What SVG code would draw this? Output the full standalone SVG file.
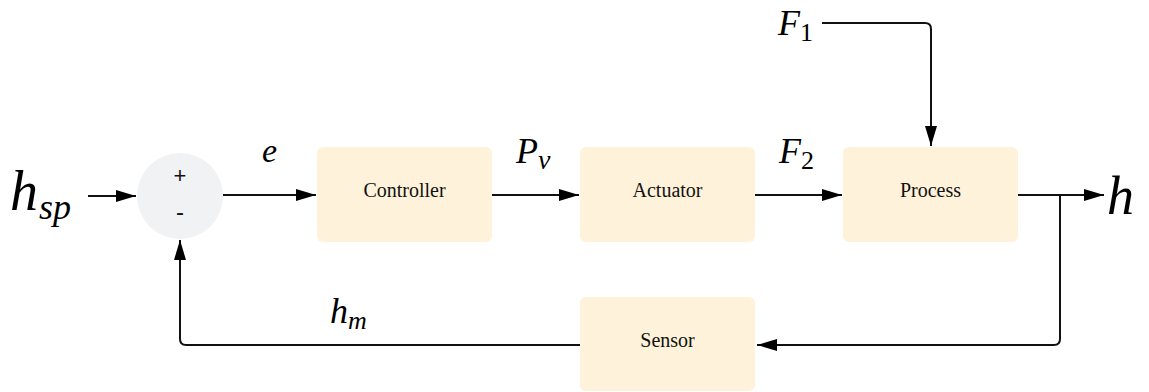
<svg xmlns="http://www.w3.org/2000/svg" width="1149" height="392" viewBox="0 0 1149 392">
  <style>
    .block { fill: #fff2da; }
    .sum { fill: #f1f2f4; }
    .wire { fill: none; stroke: #111; stroke-width: 2; stroke-linejoin: round; }
    .serif { font-family: "Liberation Serif", serif !important; }
    .sans { font-family: "Liberation Sans", sans-serif !important; }
  </style>
  <defs>
    <marker id="arrow" viewBox="0 0 20 12" refX="20" refY="6" markerWidth="20" markerHeight="12" markerUnits="userSpaceOnUse" orient="auto">
      <path d="M0,0 L20,6 L0,12 Z" fill="#000"/>
    </marker>
  </defs>

  <!-- summing junction -->
  <g id="sum">
    <circle class="sum" cx="180" cy="196" r="43"/>
    <text class="sans" x="180" y="183" font-family="Liberation Sans" font-size="22" text-anchor="middle" fill="#111">+</text>
    <text class="sans" x="180" y="220" font-family="Liberation Sans" font-size="24" text-anchor="middle" fill="#111">-</text>
  </g>

  <g id="controller">
    <rect class="block" x="317" y="147" width="175" height="95" rx="6"/>
    <text class="serif" x="404.5" y="197" font-family="Liberation Serif" font-size="20" text-anchor="middle" fill="#111">Controller</text>
  </g>

  <g id="actuator">
    <rect class="block" x="580" y="147" width="175" height="95" rx="6"/>
    <text class="serif" x="667.5" y="197" font-family="Liberation Serif" font-size="20" text-anchor="middle" fill="#111">Actuator</text>
  </g>

  <g id="process">
    <rect class="block" x="843" y="147" width="175" height="95" rx="6"/>
    <text class="serif" x="930.5" y="197" font-family="Liberation Serif" font-size="20" text-anchor="middle" fill="#111">Process</text>
  </g>

  <g id="sensor">
    <rect class="block" x="580" y="297" width="175" height="94" rx="6"/>
    <text class="serif" x="667.5" y="347" font-family="Liberation Serif" font-size="20" text-anchor="middle" fill="#111">Sensor</text>
  </g>

  <!-- signal paths -->
  <g id="connectors">
    <path class="wire" d="M88,196 H136" marker-end="url(#arrow)"/>
    <path class="wire" d="M223,195 H316" marker-end="url(#arrow)"/>
    <path class="wire" d="M492,195 H579" marker-end="url(#arrow)"/>
    <path class="wire" d="M755,195 H842" marker-end="url(#arrow)"/>
    <path class="wire" d="M1018,195 H1104" marker-end="url(#arrow)"/>
    <path class="wire" d="M1060,195 V339 Q1060,345 1054,345 H757" marker-end="url(#arrow)"/>
    <path class="wire" d="M580,345 H186 Q180,345 180,339 V240" marker-end="url(#arrow)"/>
    <path class="wire" d="M822,23 H925 Q931,23 931,29 V146" marker-end="url(#arrow)"/>
  </g>

  <!-- signal labels -->
  <g id="labels" font-family="Liberation Serif" font-style="italic" fill="#000">
    <text class="serif" x="10" y="210" font-size="56">h<tspan font-size="36" dx="1" dy="9">sp</tspan></text>
    <text class="serif" x="1107" y="214" font-size="54">h</text>
    <text class="serif" x="262" y="162" font-size="34">e</text>
    <text class="serif" x="516" y="163" font-size="36">P<tspan font-size="28" dy="6">v</tspan></text>
    <text class="serif" x="779" y="163" font-size="36">F<tspan font-size="26" font-style="normal" dy="6">2</tspan></text>
    <text class="serif" x="778" y="35" font-size="36">F<tspan font-size="26" font-style="normal" dy="6">1</tspan></text>
    <text class="serif" x="330" y="323" font-size="36">h<tspan font-size="26" dy="6">m</tspan></text>
  </g>
</svg>
